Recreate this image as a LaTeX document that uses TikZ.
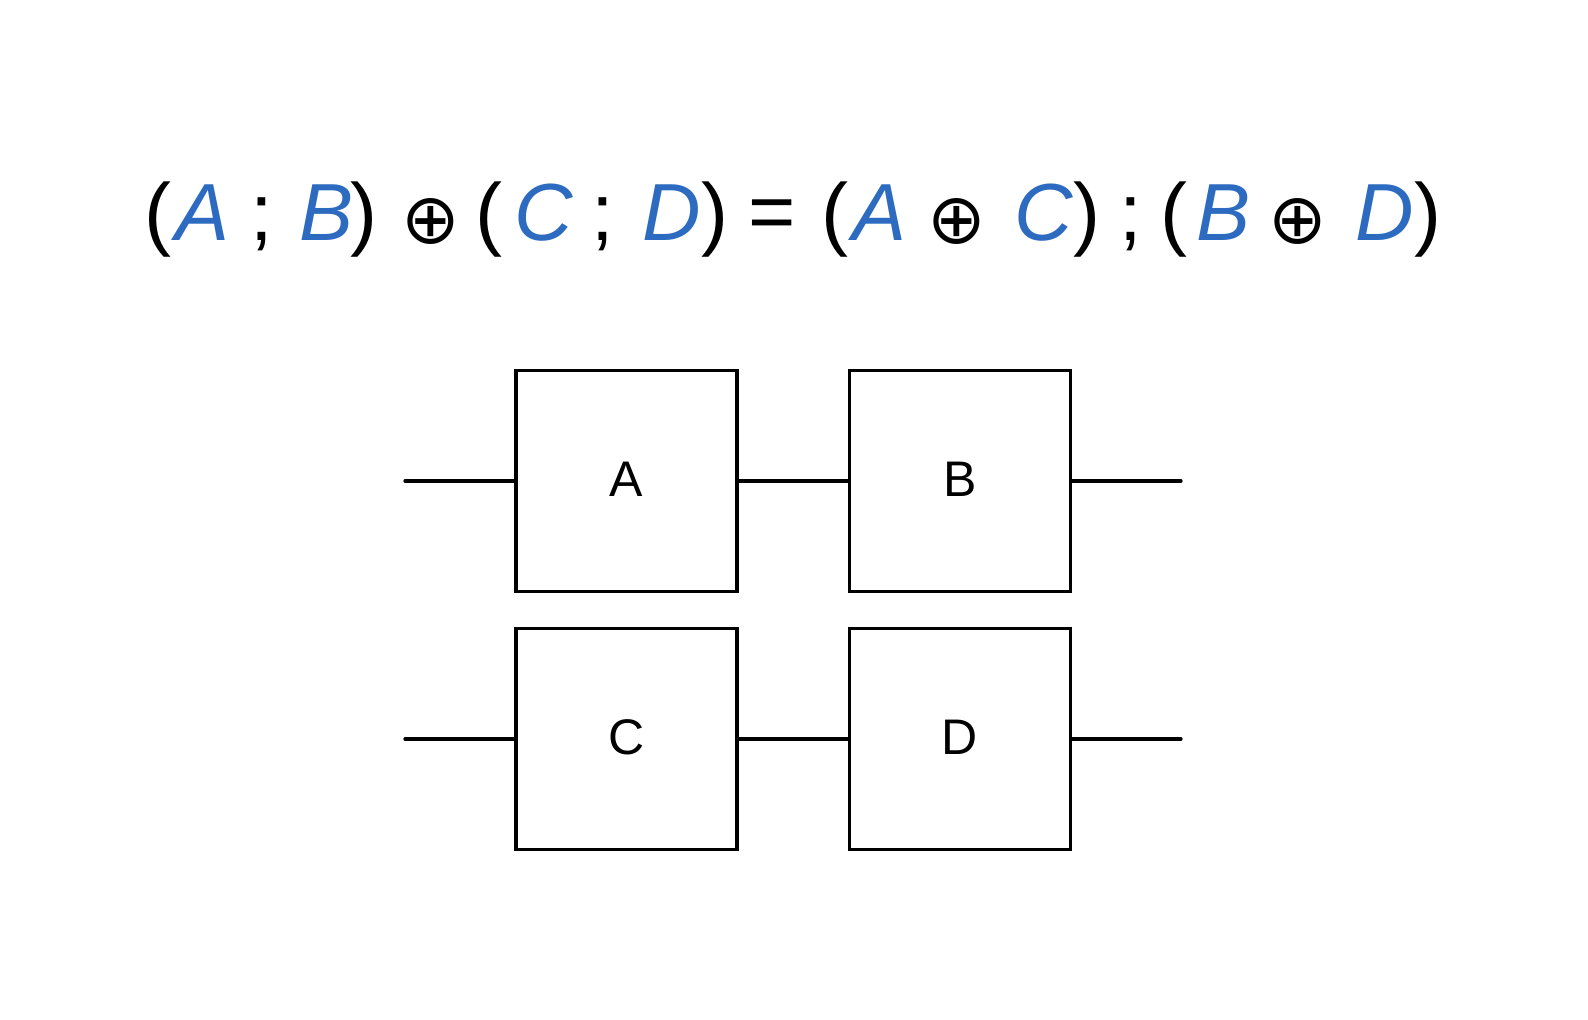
\documentclass[tikz,border=0pt]{standalone}
\usepackage{fontspec}
\setmainfont{Liberation Sans}
\newfontfamily\symfont{DejaVu Sans}
\definecolor{eqblue}{RGB}{45,107,192}
\tikzset{
  eqtok/.style={anchor=base, inner sep=0pt, font=\fontsize{81}{81}\selectfont},
  eqvar/.style={eqtok, text=eqblue, font=\fontsize{81}{81}\selectfont\itshape},
  eqop/.style={anchor=center, inner sep=0pt, font=\fontsize{70}{70}\selectfont\symfont},
  blockbox/.style={draw=black, line width=3.3pt, minimum width=221pt, minimum height=221pt,
    inner sep=0pt, text height=36pt, text depth=6pt, font=\fontsize{50}{50}\selectfont},
  wire/.style={line width=3.3pt, line cap=round}
}
\begin{document}
\begin{tikzpicture}[x=1pt,y=-1pt]
\useasboundingbox[fill=white] (0,0) rectangle (1588,1020);
% equation, token by token
\foreach \n/\x/\t in {vA1/202.7/A, vB1/326.2/B, vC1/544.2/C, vD1/671.7/D,
  vA2/879.5/A, vC2/1044.2/C, vB2/1223.3/B, vD2/1385/D}
  \node[eqvar] (\n) at (\x,240) {\t};
\foreach \n/\x/\t in {p1/157.5/(, s1/261.7/;, p2/364.2/), p3/489.2/(, s2/602.8/;,
  p5/834.5/(, s3/1130.5/;, p7/1174.2/(}
  \node[eqtok] (\n) at (\x,240) {\t};
\node[eqtok, anchor=base west] (p4) at (vD1.base east) {)};
\node[eqtok, anchor=base west] (p6) at (vC2.base east) {)};
\node[eqtok, anchor=base west] (p8) at (vD2.base east) {)};
\foreach \n/\x in {o1/431.3, o2/956.7, o3/1298.3}
  \node[eqop] (\n) at (\x,221.7) {⊕};
\node[anchor=center, inner sep=0pt, font=\fontsize{81}{81}\selectfont] (eq) at (772.2,219.2) {=};
% blocks
\node[blockbox] (A) at (626.5,481) {A};
\node[blockbox] (B) at (960,481) {B};
\node[blockbox] (C) at (626.5,739) {C};
\node[blockbox] (D) at (960,739) {D};
\coordinate (inA) at (405,481);
\coordinate (outB) at (1181,481);
\coordinate (inC) at (405,739);
\coordinate (outD) at (1181,739);
\draw[wire] (inA) -- (A.west);
\draw[wire] (A.east) -- (B.west);
\draw[wire] (B.east) -- (outB);
\draw[wire] (inC) -- (C.west);
\draw[wire] (C.east) -- (D.west);
\draw[wire] (D.east) -- (outD);
\end{tikzpicture}
\end{document}
